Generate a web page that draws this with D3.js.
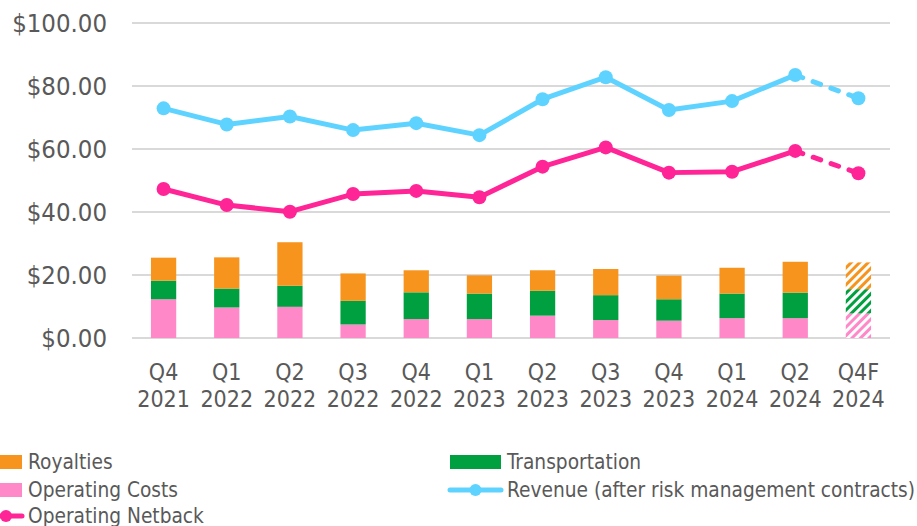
<!DOCTYPE html>
<html>
<head>
<meta charset="utf-8">
<script src="https://cdn.jsdelivr.net/npm/d3@7"></script>
<style>
  body { margin: 0; background: #fff; }
  svg text { font-family: "DejaVu Sans Condensed", "DejaVu Sans", sans-serif; fill: #595959; }
</style>
</head>
<body>
<div id="chart"></div>
<script>
// quarters (two line labels)
var quarters = ["Q4", "Q1", "Q2", "Q3", "Q4", "Q1", "Q2", "Q3", "Q4", "Q1", "Q2", "Q4F"];
var years = ["2021", "2022", "2022", "2022", "2022", "2023", "2023", "2023", "2023", "2024", "2024", "2024"];

// stacked bars ($/boe)
var operatingCosts = [12.3, 9.7, 9.9, 4.3, 6.0, 6.0, 7.1, 5.7, 5.5, 6.3, 6.3, 7.8];
var transportation = [5.9, 6.0, 6.7, 7.5, 8.5, 8.1, 7.9, 7.9, 6.8, 7.8, 8.1, 7.7];
var royalties = [7.3, 9.9, 13.8, 8.7, 7.0, 5.8, 6.5, 8.3, 7.5, 8.2, 9.8, 8.5];

// lines
var revenue = [72.9, 67.8, 70.3, 66.0, 68.2, 64.4, 75.8, 82.8, 72.4, 75.2, 83.5, 76.1];
var netback = [47.3, 42.2, 40.1, 45.7, 46.7, 44.7, 54.4, 60.5, 52.5, 52.8, 59.4, 52.3];

var yTicks = [0, 20, 40, 60, 80, 100];
var forecastIndex = 11;

var width = 917, height = 526;
var plotLeft = 132, plotRight = 890, plotTop = 23, plotBottom = 338;

var svg = d3.select("#chart").append("svg")
    .attr("width", width)
    .attr("height", height);

var colors = {
    royalties: "#F7941D",
    transportation: "#00A040",
    operating: "#FF88C8",
    revenue: "#5FD3FF",
    netback: "#FF2596"
};

// hatch patterns for the forecast bar
var defs = svg.append("defs");
[["hatch-roy", colors.royalties], ["hatch-tra", colors.transportation], ["hatch-op", colors.operating]].forEach(function(p) {
    var pat = defs.append("pattern")
        .attr("id", p[0])
        .attr("patternUnits", "userSpaceOnUse")
        .attr("width", 6).attr("height", 6)
        .attr("patternTransform", "rotate(45)");
    pat.append("rect").attr("width", 6).attr("height", 6).attr("fill", "#fff");
    pat.append("rect").attr("width", 3).attr("height", 6).attr("fill", p[1]);
});

var x = d3.scaleBand()
    .domain(d3.range(quarters.length))
    .range([plotLeft, plotRight])
    .paddingInner(0.6)
    .paddingOuter(0.3);

var y = d3.scaleLinear()
    .domain([0, 100])
    .range([plotBottom, plotTop]);

// gridlines
svg.append("g")
    .selectAll("line")
    .data(yTicks)
    .enter().append("line")
    .attr("x1", plotLeft).attr("x2", plotRight)
    .attr("y1", function(d) { return y(d); })
    .attr("y2", function(d) { return y(d); })
    .attr("stroke", "#d9d9d9")
    .attr("stroke-width", 2);

// y labels
svg.append("g")
    .selectAll("text")
    .data(yTicks)
    .enter().append("text")
    .attr("x", 107)
    .attr("y", function(d) { return y(d); })
    .attr("dy", "0.36em")
    .attr("text-anchor", "end")
    .style("font-size", "25.5px")
    .text(function(d) { return "$" + d3.format(".2f")(d); });

// x labels
var xl = svg.append("g")
    .selectAll("text")
    .data(quarters)
    .enter().append("text")
    .attr("text-anchor", "middle")
    .style("font-size", "23px");
xl.append("tspan")
    .attr("x", function(d, i) { return x(i) + x.bandwidth() / 2; })
    .attr("y", 380)
    .text(function(d) { return d; });
xl.append("tspan")
    .attr("x", function(d, i) { return x(i) + x.bandwidth() / 2; })
    .attr("y", 407)
    .text(function(d, i) { return years[i]; });

// stacked bars
var rows = quarters.map(function(q, i) {
    return { op: operatingCosts[i], tra: transportation[i], roy: royalties[i] };
});
var stack = d3.stack().keys(["op", "tra", "roy"])(rows);
var solid = { op: colors.operating, tra: colors.transportation, roy: colors.royalties };

svg.append("g")
    .selectAll("g")
    .data(stack)
    .enter().append("g")
    .each(function(layer) {
        d3.select(this).selectAll("rect")
            .data(layer)
            .enter().append("rect")
            .attr("x", function(d, i) { return x(i); })
            .attr("width", x.bandwidth())
            .attr("y", function(d) { return y(d[1]); })
            .attr("height", function(d) { return y(d[0]) - y(d[1]); })
            .attr("fill", function(d, i) {
                return i === forecastIndex ? "url(#hatch-" + layer.key + ")" : solid[layer.key];
            });
    });

// lines
var cx = function(i) { return x(i) + x.bandwidth() / 2; };

function drawLine(values, color) {
    var g = svg.append("g");
    var line = d3.line()
        .x(function(d, i) { return cx(i); })
        .y(function(d) { return y(d); });
    g.append("path")
        .datum(values.slice(0, forecastIndex))
        .attr("d", line)
        .attr("fill", "none")
        .attr("stroke", color)
        .attr("stroke-width", 5)
        .attr("stroke-linejoin", "round");
    var fc = d3.line()
        .x(function(d) { return cx(d[0]); })
        .y(function(d) { return y(d[1]); });
    g.append("path")
        .datum([[forecastIndex - 1, values[forecastIndex - 1]], [forecastIndex, values[forecastIndex]]])
        .attr("d", fc)
        .attr("fill", "none")
        .attr("stroke", color)
        .attr("stroke-width", 5)
        .attr("stroke-linecap", "round")
        .attr("stroke-dasharray", "8,11");
    g.selectAll("circle")
        .data(values)
        .enter().append("circle")
        .attr("cx", function(d, i) { return cx(i); })
        .attr("cy", function(d) { return y(d); })
        .attr("r", 7)
        .attr("fill", color);
}
drawLine(revenue, colors.revenue);
drawLine(netback, colors.netback);

// legend
var legend = svg.append("g").style("font-size", "20.7px");
var items = [
    { label: "Royalties", type: "box", color: colors.royalties, x: 0, y: 462, w: 22 },
    { label: "Transportation", type: "box", color: colors.transportation, x: 450, y: 462, w: 51 },
    { label: "Operating Costs", type: "box", color: colors.operating, x: 0, y: 490, w: 22 },
    { label: "Revenue (after risk management contracts)", type: "line", color: colors.revenue, x: 450, y: 490, w: 51 },
    { label: "Operating Netback", type: "line", color: colors.netback, x: -10, y: 516, w: 32 }
];
items.forEach(function(it) {
    if (it.type === "box") {
        legend.append("rect")
            .attr("x", it.x).attr("y", it.y - 7)
            .attr("width", it.w).attr("height", 14)
            .attr("fill", it.color);
    } else {
        legend.append("line")
            .attr("x1", it.x).attr("x2", it.x + it.w)
            .attr("y1", it.y).attr("y2", it.y)
            .attr("stroke", it.color).attr("stroke-width", 5)
            .attr("stroke-linecap", "round");
        legend.append("circle")
            .attr("cx", it.x + it.w / 2).attr("cy", it.y)
            .attr("r", 6).attr("fill", it.color);
    }
    legend.append("text")
        .attr("x", it.x + it.w + 6)
        .attr("y", it.y)
        .attr("dy", "0.36em")
        .text(it.label);
});
</script>
</body>
</html>
